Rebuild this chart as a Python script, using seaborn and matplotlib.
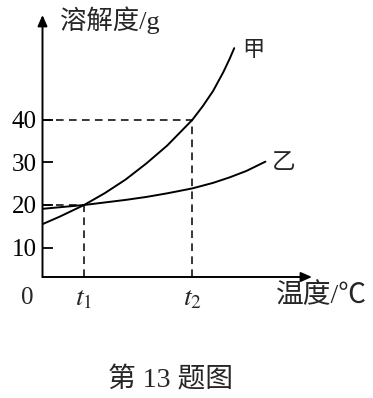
import matplotlib
matplotlib.use("Agg")
import matplotlib.pyplot as plt
import seaborn as sns
import pandas as pd

# ---- data (x in arbitrary temperature units, t1=10, t2=36) ----
jia_x = [0, 4, 10, 15, 20, 25, 30, 36, 38.5, 41, 43.5, 45, 46.1]
jia_y = [15.5, 17.2, 20, 22.8, 26.0, 29.8, 34.0, 40, 43.2, 46.8, 51.3, 54.4, 56.9]
yi_x = [0, 5, 10, 15, 20, 25, 30, 36, 41, 45, 49, 53.6]
yi_y = [19.1, 19.55, 20, 20.6, 21.2, 21.9, 22.75, 23.9, 25.2, 26.5, 28.0, 30.2]
ytick_vals = [10, 20, 30, 40]
t1, t2 = 10, 36
y_t1, y_t2 = 20, 40

sns.set_style("white")
plt.rcParams['font.family'] = ['Liberation Serif', 'Noto Sans CJK SC']
plt.rcParams['mathtext.fontset'] = 'stix'

fig = plt.figure(figsize=(3.73, 3.98), dpi=100)
ax = fig.add_axes([42.5/373, 121/398, 269.5/373, 262/398])

df = pd.concat([
    pd.DataFrame({"t": jia_x, "s": jia_y, "name": "甲"}),
    pd.DataFrame({"t": yi_x, "s": yi_y, "name": "乙"}),
])
sns.lineplot(data=df, x="t", y="s", units="name", estimator=None, color="black",
             lw=1.4, ax=ax, legend=False, sort=False)

ax.set_xlim(0, 64.8)
ax.set_ylim(3.06, 64.7)

dash = dict(color="black", lw=1.1, ls=(0, (5, 3.5)))
ax.plot([0, t1], [y_t1, y_t1], **dash)
ax.plot([t1, t1], [3.06, y_t1], **dash)
ax.plot([0, t2], [y_t2, y_t2], **dash)
ax.plot([t2, t2], [3.06, y_t2], **dash)

for s in ax.spines.values():
    s.set_visible(False)
ax.annotate('', xy=(0, 1.0), xytext=(0, 0), xycoords='axes fraction',
            arrowprops=dict(arrowstyle='-|>,head_length=0.5,head_width=0.22', lw=1.4,
                            color='black', mutation_scale=13, shrinkA=0, shrinkB=0))
ax.annotate('', xy=(1.0, 0), xytext=(0, 0), xycoords='axes fraction',
            arrowprops=dict(arrowstyle='-|>,head_length=0.5,head_width=0.22', lw=1.4,
                            color='black', mutation_scale=13, shrinkA=0, shrinkB=0))

ax.set_yticks(ytick_vals)
ax.set_yticklabels([str(v) for v in ytick_vals], fontsize=18)
ax.tick_params(axis='y', direction='in', length=7, width=1.3, pad=4, left=True, colors='black')
ax.set_xticks([])
ax.set_xlabel("")
ax.set_ylabel("")

ax.text(t1, -0.085, r"$t_1$", transform=ax.get_xaxis_transform(), ha="center", va="center", fontsize=20)
ax.text(t2, -0.085, r"$t_2$", transform=ax.get_xaxis_transform(), ha="center", va="center", fontsize=20)

fig.text(27/373, 1 - 298/398, "0", ha="center", va="center", fontsize=18)
fig.text(60/373, 1 - 20/398, "溶解度/g", ha="left", va="center", fontsize=19)
fig.text(276/373, 1 - 296/398, "温度/℃", ha="left", va="center", fontsize=20)
fig.text(253/373, 1 - 51/398, "甲", ha="center", va="center", fontsize=16)
fig.text(284/373, 1 - 164/398, "乙", ha="center", va="center", fontsize=17)
fig.text(171/373, 1 - 380/398, "第 13 题图", ha="center", va="center", fontsize=20)

fig.savefig("out.png", dpi=100)
